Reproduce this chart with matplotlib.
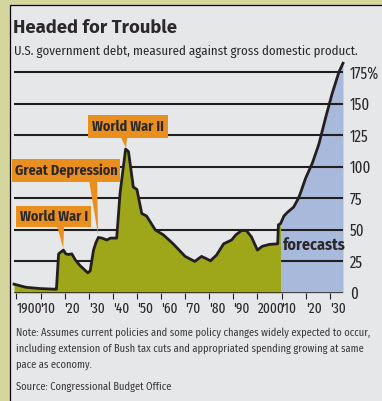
import matplotlib
matplotlib.use("Agg")
import matplotlib.pyplot as plt
from matplotlib.patches import Rectangle, Polygon

# ---------------- data ----------------
hist_years = [1899, 1904, 1910, 1916, 1916.6, 1917.5, 1919.5, 1920.5, 1921.6, 1923, 1924.5,
              1926.5, 1929.6, 1930.6, 1931.4, 1932, 1933, 1934, 1935.5, 1937.5, 1939,
              1941.6, 1943, 1945.3, 1946.5, 1948.5, 1950, 1952, 1954, 1957.6, 1961,
              1965, 1969, 1970, 1974, 1976.8, 1979, 1980.5, 1983, 1986, 1989.3,
              1991, 1993.4, 1995.4, 1997.5, 2000, 2002, 2005, 2008.4, 2008.7, 2009.6]
hist_debt = [7, 4.5, 3.5, 3, 3, 31, 34, 31, 30.5, 31, 26,
             21.5, 16, 17.5, 27, 34, 40, 44, 43.5, 42, 43.5,
             43.5, 79, 114, 112, 84, 82, 63, 61, 50, 46,
             39, 31, 29, 25, 29, 27, 25.5, 30, 39, 42,
             46, 49.5, 49.5, 44.5, 34, 37, 38.5, 39, 54, 55]

fc_years = [2009.6, 2011, 2012.5, 2015, 2017, 2018, 2020, 2022.8, 2025.5, 2028.3,
            2031, 2033.8, 2035.5]
fc_debt = [55, 61, 64, 68, 75, 80, 91, 103, 118, 139, 158, 175, 182]

x_ticks = [1900, 1910, 1920, 1930, 1940, 1950, 1960, 1970, 1980, 1990, 2000, 2010, 2020, 2030]
x_labels = ["1900", "'10", "'20", "'30", "'40", "'50", "'60", "'70", "'80", "'90",
            "2000", "'10", "'20", "'30"]
y_ticks = [0, 25, 50, 75, 100, 125, 150, 175]
y_labels = ["0", "25", "50", "75", "100", "125", "150", "175%"]

# events: label, tip year, tip value, box (x0, x1, y0, y1) in data units, pointer base (xa, xb)
events = [
    ("World War II", 1945.5, 114.8, (1929.8, 1963.0, 122.7, 141.0), (1943.4, 1945.9)),
    ("Great Depression", 1933.9, 45.9, (1898.0, 1943.1, 87.9, 106.1), (1930.2, 1933.5)),
    ("World War I", 1919.4, 35.6, (1899.9, 1931.0, 52.3, 68.9), (1916.9, 1919.8)),
]

title = "Headed for Trouble"
subtitle = "U.S. government debt, measured against gross domestic product."
note_lines = ["Note: Assumes current policies and some policy changes widely expected to occur,",
              "including extension of Bush tax cuts and appropriated spending growing at same",
              "pace as economy."]
source = "Source: Congressional Budget Office"

# ---------------- style ----------------
COND = ["Fira Sans Condensed", "DejaVu Sans"]
XCOND = ["Fira Sans Extra Condensed", "Fira Sans Condensed", "DejaVu Sans"]
NORMAL = ["Fira Sans", "DejaVu Sans"]
plt.rcParams['font.family'] = COND
KHAKI = "#d5d69e"
PANEL = "#e6e7e8"
GREEN = "#9ea619"
BLUE = "#a9b9dc"
ORANGE = "#e98f1f"
DARK = "#231f20"
TXT = "#2b2829"

W, H = 382, 401
fig = plt.figure(figsize=(W / 100, H / 100), dpi=100)
fig.patch.set_facecolor(KHAKI)

def fx(px):
    return px / W

def fy(py):
    return 1 - py / H

# panel
panel = Rectangle((fx(9.5), -0.01), 1.05, fy(4.5) + 0.01, transform=fig.transFigure,
                  facecolor=PANEL, edgecolor="black", linewidth=0.9, zorder=-5)
fig.patches.append(panel)

ax = fig.add_axes([fx(14), fy(293), fx(343) - fx(14), fy(62) - fy(293)])
ax.set_zorder(2)
ax.set_facecolor("none")
for s in ax.spines.values():
    s.set_visible(False)
ax.set_xlim(1899, 2035.5)
ax.set_ylim(0, 183)

# forecast area
ax.fill_between(fc_years, fc_debt, 0, color=BLUE, linewidth=0, zorder=1)
# gridlines
for v in y_ticks[1:]:
    ax.axhline(v, color=DARK, linewidth=1.5, zorder=2)
# historical area
ax.fill_between(hist_years, hist_debt, 0, color=GREEN, linewidth=0, zorder=3)
# line
ax.plot(hist_years + fc_years, hist_debt + fc_debt, color=DARK, linewidth=2.0,
        solid_joinstyle="round", zorder=5, clip_on=False)
ax.axhline(0, color=DARK, linewidth=1.1, zorder=6)

# ticks
ax.set_xticks(x_ticks)
ax.set_xticklabels(x_labels, fontsize=10.4, color=TXT, family=XCOND)
ax.tick_params(axis="x", direction="out", length=4.5, width=0.8, color=DARK, pad=2)
for lab in ax.get_xticklabels():
    lab.set_horizontalalignment("left")
ax.yaxis.tick_right()
ax.set_yticks(y_ticks)
ax.set_yticklabels(y_labels, fontsize=11.5, color=TXT, family=XCOND)
ax.tick_params(axis="y", length=0, pad=5)

# annotations
for label, tx, ty, (x0, x1, y0, y1), (xa, xb) in events:
    ax.add_patch(Rectangle((x0, y0), x1 - x0, y1 - y0, facecolor=ORANGE, edgecolor="none",
                           zorder=7, clip_on=False))
    ax.add_patch(Polygon([(xa, y0 + 0.5), (xb, y0 + 0.5), (tx, ty)], closed=True,
                         facecolor=ORANGE, edgecolor="none", zorder=7, clip_on=False))
    ax.text((x0 + x1) / 2, (y0 + y1) / 2, label, ha="center", va="center", fontsize=10.2,
            fontweight="bold", color=TXT, zorder=8, family=COND)

ax.text(2010.6, 38, "forecasts", ha="left", va="center", fontsize=11.5, fontweight="bold",
        color=TXT, zorder=8, family=COND)

# titles and notes
fig.text(fx(13), fy(28), title, ha="left", va="center", fontsize=13.3, fontweight="bold",
         color=TXT, family=NORMAL)
fig.text(fx(14), fy(51), subtitle, ha="left", va="center", fontsize=9.3, color=TXT)
for i, line in enumerate(note_lines):
    fig.text(fx(16), fy(333 + 16 * i), line, ha="left", va="center", fontsize=7.5,
             color="#3a3738")
fig.text(fx(16), fy(387), source, ha="left", va="center", fontsize=7.5, color="#3a3738")

fig.savefig("out.png", dpi=100, facecolor=KHAKI)
